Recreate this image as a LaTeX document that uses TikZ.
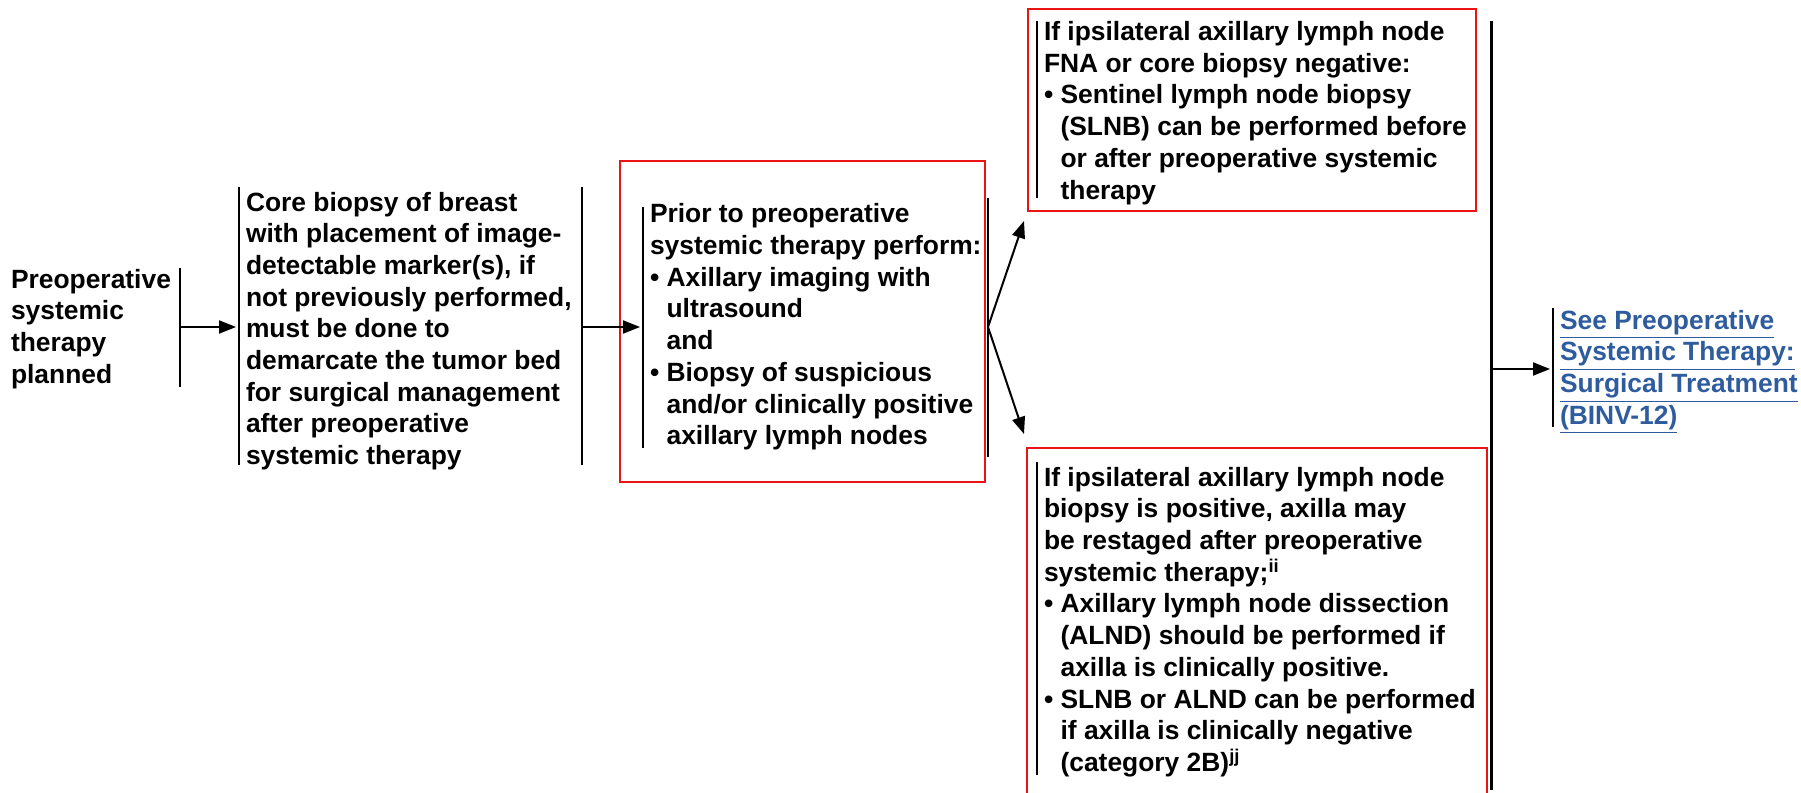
\documentclass[tikz,border=0pt]{standalone}
\usepackage{fontspec}
\setmainfont{Liberation Sans}
\usetikzlibrary{arrows.meta}
\definecolor{linkblue}{RGB}{46,92,158}
\definecolor{boxred}{RGB}{235,20,20}
\newcommand{\bul}{\textbullet\ }
\newcommand{\ind}{\hphantom{\textbullet\ }}

\begin{document}
\begin{tikzpicture}[x=0.5pt,y=-0.5pt,
		txt/.style={font=\fontsize{13.2}{15.85}\selectfont\bfseries, align=left, anchor=west, inner xsep=3pt, inner ysep=0pt},
		bar/.style={line width=1.2pt},
		redbox/.style={draw=boxred, line width=0.9pt},
		>={Triangle[length=8.5pt,width=6.5pt]}, line width=1pt]
	\useasboundingbox (0,0) rectangle (1801,793);
	\draw[redbox] (620,161) rectangle (985,482);
	\draw[redbox] (1028,9) rectangle (1476,211);
	\draw[redbox] (1027,800) |- (1487,448) -- (1487,800);
	\node[txt] (n1) at (4,329) {Preoperative\\systemic\\therapy\\planned};
	\node[txt] (n2) at (239,331) {Core biopsy of breast\\with placement of image-\\detectable marker(s), if\\not previously performed,\\must be done to\\demarcate the tumor bed\\for surgical management\\after preoperative\\systemic therapy};
	\node[txt] (n3) at (643,327) {Prior to preoperative\\systemic therapy perform:\\\bul Axillary imaging with\\\ind ultrasound\\\ind and\\\bul Biopsy of suspicious\\\ind and/or clinically positive\\\ind axillary lymph nodes};
	\node[txt] (n4) at (1037,113) {If ipsilateral axillary lymph node\\FNA or core biopsy negative:\\\bul Sentinel lymph node biopsy\\\ind (SLNB) can be performed before\\\ind or after preoperative systemic\\\ind therapy};
	\node[txt] (n5) at (1037,622) {If ipsilateral axillary lymph node\\biopsy is positive, axilla may\\be restaged after preoperative\\systemic therapy;\textsuperscript{ii}\\\bul Axillary lymph node dissection\\\ind (ALND) should be performed if\\\ind axilla is clinically positive.\\\bul SLNB or ALND can be performed\\\ind if axilla is clinically negative\\\ind (category 2B)\textsuperscript{jj}};
	\node[txt, text=linkblue] (n6) at (1553,372) {\underline{See Preoperative}\\\underline{Systemic Therapy:}\\\underline{Surgical Treatment}\\\underline{(BINV-12)}};
	\draw[bar] (180,268) -- (180,387);
	\draw[bar] (239,187) -- (239,465);
	\draw[bar] (582,187) -- (582,465);
	\draw[bar] (643,207) -- (643,448);
	\draw[bar] (988,198) -- (988,457);
	\draw[bar] (1037,21) -- (1037,198);
	\draw[bar] (1037,462) -- (1037,775);
	\draw[bar, line width=1.5pt] (1491,21) -- (1491,790);
	\draw[bar] (1553,308) -- (1553,427);
	\coordinate (j1) at (180,327);
	\coordinate (j2) at (582,327);
	\coordinate (j3) at (988,327);
	\coordinate (j4) at (1491,369);
	\coordinate (a1) at (1024,221);
	\coordinate (a2) at (1024,434);
	\draw[->] (j1) -- ([xshift=-1.5pt]j1 -| n2.west);
	\draw[->] (j2) -- ([xshift=-1.5pt]j2 -| n3.west);
	\draw[->] (j3) -- (a1);
	\draw[->] (j3) -- (a2);
	\draw[->] (j4) -- ([xshift=-1.5pt]j4 -| n6.west);
\end{tikzpicture}
\end{document}
